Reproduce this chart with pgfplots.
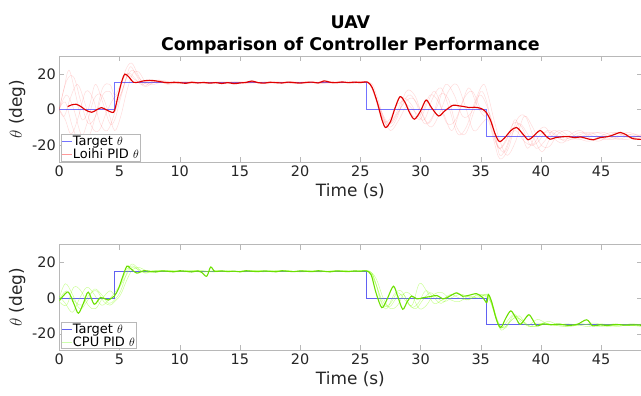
\documentclass[border=0pt]{standalone}
\usepackage{pgfplots}
\pgfplotsset{compat=1.18}
\usepackage{fontspec}
\setmainfont{DejaVu Sans}
\definecolor{axgray}{gray}{0.72}
\definecolor{txt}{gray}{0.15}
\definecolor{tgtA}{rgb}{0.45,0.45,1}
\definecolor{tgtB}{rgb}{0.38,0.38,0.95}
\definecolor{redmain}{rgb}{0.88,0,0}
\definecolor{grnmain}{rgb}{0.42,0.88,0}
\definecolor{grnfaint}{rgb}{0.5,1,0}
\definecolor{legR}{rgb}{1,0.6,0.6}
\definecolor{legG}{rgb}{0.8,1,0.68}
\pgfplotsset{
 myaxis/.style={
  scale only axis, width=582.2bp, xmin=0, xmax=48.35, ymax=30,
  xtick={0,5,...,45}, ytick={-20,0,20}, yticklabels={-20,0,20},
  tick align=inside, major tick length=5bp,
  axis line style={axgray}, every tick/.style={axgray},
  tick label style={font=\fontsize{14.5}{16}\selectfont, text=txt},
  /pgf/number format/assume math mode=true,
  label style={font=\fontsize{17}{19}\selectfont, text=txt},
  xlabel={Time (s)}, ylabel={$\theta$ (deg)},
  legend style={at={(rel axis cs:0,0)}, anchor=south west, xshift=2bp, yshift=1.5bp,
    draw=axgray, fill=white, font=\fontsize{13}{15}\selectfont, inner sep=0.6pt, row sep=0.8pt,
    nodes={inner sep=0.5pt}},
  legend cell align=left,
  legend image code/.code={\draw[#1] (0cm,0cm) -- (0.34cm,0cm);},
 },
 faintR/.style={red, draw opacity=0.14, line width=0.5pt, smooth, tension=0.6, forget plot},
 mainR/.style={redmain, line width=1.15pt, smooth, tension=0.5, forget plot},
 faintG/.style={grnfaint, draw opacity=0.4, line width=0.5pt, smooth, tension=0.6, forget plot},
 mainG/.style={grnmain, line width=1.1pt, smooth, tension=0.5, forget plot},
}
\begin{document}
\begin{tikzpicture}
\useasboundingbox (0,0) rectangle (641bp,396bp);
% ---------------- top ----------------
\begin{axis}[myaxis, at={(59.3bp,233.5bp)}, anchor=south west, height=106.5bp, ymin=-30,
  title={UAV\\Comparison of Controller Performance},
  title style={align=center, font=\bfseries\fontsize{17.5}{22}\selectfont, text=black, yshift=-7.5bp}]
\addplot[tgtA, line width=0.7pt] coordinates {(0,0)(4.55,0)(4.55,15)(25.5,15)(25.5,0)(35.45,0)(35.45,-15)(48.35,-15)};
\addlegendentry{Target $\theta$}
\addlegendimage{legR, line width=0.7pt}
\addlegendentry{Loihi PID $\theta$}
\addplot[faintR] coordinates {(0,0)(0.4,12)(0.8,22)(1.3,10)(1.9,-6)(2.5,2)(3.0,14)(3.6,4)(4.2,-8)(4.6,-6)(5.0,4)(5.5,16)(5.9,24)(6.4,19)(7.0,13)(7.6,15.5)(8.3,16.5)(9,14)(10.2,15.6)(11.4,14.8)(12.6,15.3)(13.8,14.6)(15,15.4)(16.2,14.9)(17.4,15.5)(18.6,14.7)(19.8,15.2)(21,14.8)(22.2,15.6)(23.4,14.9)(24.6,15.3)(25.7,15)(26.2,8)(26.8,-4)(27.3,-9)(28,-2)(28.6,6)(29.3,2)(29.9,-6)(30.6,4)(31.2,10)(31.9,-2)(32.6,-12)(33.3,0)(34,12)(34.7,2)(35.3,-4)(35.7,-2)(36.2,-14)(36.6,-26)(37.2,-20)(37.8,-6)(38.3,-12)(38.9,-22)(39.6,-14)(40.3,-10)(41,-16)(41.8,-19)(42.5,-14)(43.3,-12)(44,-16)(44.8,-18)(45.6,-15)(46.4,-13)(47.2,-16)(48.35,-15)};
\addplot[faintR] coordinates {(0,0)(0.5,-6)(1.0,-14)(1.6,-4)(2.2,10)(2.8,6)(3.4,-8)(4.0,-12)(4.6,-2)(5.1,8)(5.6,18)(6.1,22)(6.7,17)(7.3,14)(8,15.5)(9,15.2)(10,14.7)(11.2,15.4)(12.4,14.6)(13.6,15.3)(14.8,14.8)(16,15.6)(17.2,14.7)(18.4,15.2)(19.6,14.6)(20.8,15.4)(22,14.9)(23.2,15.3)(24.4,14.6)(25.7,15)(26.3,6)(27,-6)(27.6,-8)(28.3,0)(29,8)(29.6,4)(30.3,-8)(31,-4)(31.6,8)(32.3,6)(33,-10)(33.7,-14)(34.4,-2)(35,10)(35.5,4)(36,-12)(36.5,-22)(37.1,-18)(37.7,-8)(38.4,-10)(39.1,-20)(39.8,-18)(40.5,-12)(41.2,-14)(42,-18)(43,-15)(44,-13)(45,-16)(46,-17)(47,-14)(48.35,-16)};
\addplot[faintR] coordinates {(0,0)(0.6,16)(1.2,18)(1.8,4)(2.4,-8)(3.0,-4)(3.6,8)(4.2,10)(4.7,4)(5.2,10)(5.7,20)(6.2,18)(6.8,14)(7.5,15.8)(8.5,15)(9.7,14.5)(10.9,15.3)(12.1,14.8)(13.3,15.5)(14.5,14.7)(15.7,15.2)(16.9,14.6)(18.1,15.4)(19.3,14.9)(20.5,15.5)(21.7,14.7)(22.9,15.2)(24.1,14.8)(25.6,15)(26.1,10)(26.8,-2)(27.4,-8)(28,-3)(28.7,4)(29.4,6)(30.1,-2)(30.7,-8)(31.4,2)(32.1,14)(32.8,8)(33.5,-4)(34.2,-2)(34.9,8)(35.5,2)(36,-10)(36.4,-20)(37,-24)(37.6,-14)(38.2,-8)(38.9,-14)(39.6,-22)(40.3,-18)(41,-12)(41.7,-14)(42.5,-17)(43.5,-15)(44.5,-13)(45.5,-15)(46.5,-17)(47.5,-14)(48.35,-15)};
\addplot[faintR] coordinates {(0,0)(0.5,4)(1.1,-10)(1.7,-18)(2.3,-8)(2.9,6)(3.5,8)(4.1,-2)(4.6,-12)(5.1,-4)(5.6,10)(6.1,20)(6.6,21)(7.2,15)(7.9,14)(8.6,15.6)(9.8,14.9)(11,15.4)(12.2,14.6)(13.4,15.2)(14.6,14.8)(15.8,15.5)(17,14.6)(18.2,15.3)(19.4,14.7)(20.6,15.2)(21.8,14.6)(23,15.4)(24.2,14.9)(25.8,15)(26.3,9)(26.9,-4)(27.5,-12)(28.2,-6)(28.9,2)(29.6,-2)(30.3,-6)(31,6)(31.7,12)(32.4,0)(33.1,-14)(33.8,-10)(34.5,4)(35.2,14)(35.6,8)(36.1,-6)(36.6,-18)(37.2,-26)(37.9,-18)(38.6,-4)(39.3,-10)(40,-20)(40.7,-21)(41.4,-14)(42.2,-12)(43,-16)(44,-18)(45,-15)(46,-13)(47,-15)(48.35,-17)};
\addplot[faintR] coordinates {(0,0)(0.4,-4)(0.9,6)(1.5,14)(2.1,4)(2.7,-10)(3.3,-12)(3.9,-2)(4.5,6)(5.0,10)(5.5,22)(6.0,26)(6.5,20)(7.1,13)(7.8,15)(8.5,16.2)(9.5,15)(10.7,14.6)(11.9,15.3)(13.1,14.9)(14.3,15.5)(15.5,14.6)(16.7,15.2)(17.9,14.8)(19.1,15.5)(20.3,14.7)(21.5,15.3)(22.7,14.6)(23.9,15.2)(25.7,15)(26.2,8)(26.9,-6)(27.5,-10)(28.1,-4)(28.8,10)(29.5,8)(30.2,-4)(30.9,-10)(31.6,-2)(32.3,10)(33,14)(33.7,2)(34.4,-12)(35.1,-8)(35.6,-6)(36.1,-18)(36.6,-28)(37.3,-22)(38,-6)(38.7,-4)(39.4,-16)(40.1,-24)(40.8,-16)(41.5,-12)(42.3,-15)(43.2,-17)(44.2,-14)(45.2,-13)(46.2,-16)(47.2,-17)(48.35,-14)};
\addplot[faintR] coordinates {(0,0)(0.6,8)(1.2,0)(1.8,-14)(2.4,-16)(3.0,-4)(3.6,12)(4.2,14)(4.6,8)(5.1,14)(5.6,20)(6.2,17)(6.8,15)(7.5,16)(8.6,14.8)(9.8,15.4)(11,14.7)(12.2,15.2)(13.4,14.6)(14.6,15.4)(15.8,14.9)(17,15.3)(18.2,14.6)(19.4,15.5)(20.6,14.8)(21.8,15.2)(23,14.7)(24.2,15.3)(25.6,15)(26.2,7)(26.8,-6)(27.4,-6)(28,2)(28.7,4)(29.4,-4)(30.1,-2)(30.8,8)(31.5,4)(32.2,-8)(32.9,-6)(33.6,6)(34.3,10)(35,0)(35.6,-4)(36.1,-16)(36.6,-22)(37.2,-16)(37.9,-12)(38.6,-18)(39.3,-20)(40,-14)(40.8,-13)(41.6,-17)(42.4,-16)(43.3,-13)(44.3,-15)(45.3,-17)(46.3,-15)(47.3,-13)(48.35,-16)};
\addplot[mainR] coordinates {(0.7,1.5)(1.0,2.4)(1.4,2.8)(1.8,1.5)(2.2,-0.5)(2.7,-1.7)(3.1,-0.3)(3.5,0.9)(3.9,-0.3)(4.4,-1.8)(4.6,-0.5)(4.9,8)(5.2,16)(5.45,19.8)(5.8,18)(6.15,15.2)(6.6,15.3)(7,16)(7.5,16.3)(8,16)(8.5,15.4)(9,14.9)(9.5,15.2)(10,15)(10.5,14.6)(11,15.2)(11.5,14.8)(12,15.1)(12.5,14.7)(13,15)(13.5,14.5)(14,15)(14.5,14.4)(15,14.8)(15.5,15.1)(16,15.9)(16.5,15)(17,14.7)(17.5,15.2)(18,15)(18.5,14.8)(19,15.3)(19.5,15)(20,14.7)(20.5,15.1)(21,15.3)(21.5,14.8)(22,16)(22.5,15.2)(23,15)(23.5,15.4)(24,15)(24.5,15.3)(25,15)(25.6,15.3)(26,12)(26.4,4)(26.8,-6)(27.1,-10.3)(27.5,-7)(27.9,1)(28.3,7.1)(28.7,4)(29.1,-2)(29.5,-5.6)(30,-1)(30.46,5.2)(30.9,1)(31.5,-3.8)(32,-1)(32.67,2.2)(33.1,2)(33.6,1.5)(34,1)(34.5,1.1)(35,0.5)(35.4,-1.3)(35.8,-6)(36.2,-14)(36.55,-18.2)(37,-16)(37.5,-12)(37.98,-10.3)(38.5,-14)(38.95,-17.2)(39.4,-15)(39.93,-12)(40.4,-15)(40.76,-16.9)(41.2,-16)(41.8,-15.5)(42.3,-15.4)(42.8,-16)(43.3,-15.6)(43.8,-16.5)(44.35,-17.2)(44.9,-16)(45.5,-15.5)(46,-14.5)(46.6,-13.1)(47.1,-14.5)(47.6,-16.5)(48.35,-17)};
\end{axis}
% ---------------- bottom ----------------
\begin{axis}[myaxis, at={(59.3bp,45.7bp)}, anchor=south west, height=105.8bp, ymin=-29.3]
\addplot[tgtB, line width=0.7pt] coordinates {(0,0)(4.55,0)(4.55,15)(25.5,15)(25.5,0)(35.45,0)(35.45,-15)(48.35,-15)};
\addlegendentry{Target $\theta$}
\addlegendimage{legG, line width=0.7pt}
\addlegendentry{CPU PID $\theta$}
\addplot[faintG] coordinates {(0,0)(0.5,8)(1.1,2)(1.7,-6)(2.3,-2)(2.9,5)(3.5,2)(4.1,-3)(4.6,-1)(5.1,4)(5.6,14)(6.0,19)(6.5,17)(7.1,14)(7.8,15.5)(8.5,15)(9.7,14.6)(10.9,15.4)(12.1,14.7)(13.3,15.3)(14.5,14.8)(15.7,15.4)(16.9,14.7)(18.1,15.2)(19.3,14.8)(20.5,15.4)(21.7,14.7)(22.9,15.3)(24.1,14.8)(25.7,15)(26.2,10)(26.7,-2)(27.2,-6)(27.8,2)(28.4,4)(29,-3)(29.6,-6)(30.2,-1)(30.8,3)(31.4,0)(32,-2)(32.8,1)(33.5,2)(34.2,0)(35,1)(35.6,1)(36.1,-8)(36.6,-17)(37.2,-13)(37.8,-9)(38.4,-14)(39,-15)(39.7,-12)(40.4,-14)(41.2,-15.5)(42,-14.5)(43,-15)(44,-16)(45,-14.5)(46,-15.5)(47,-15)(48.35,-16)};
\addplot[faintG] coordinates {(0,-2)(0.6,-4)(1.2,6)(1.8,4)(2.4,-4)(3.0,-6)(3.6,0)(4.2,4)(4.6,2)(5.0,6)(5.5,12)(6.0,17)(6.6,16)(7.2,14)(8,15)(9.2,15.4)(10.4,14.7)(11.6,15.3)(12.8,14.6)(14,15.2)(15.2,14.8)(16.4,15.5)(17.6,14.7)(18.8,15.3)(20,14.6)(21.2,15.2)(22.4,14.8)(23.6,15.4)(24.8,14.8)(25.8,15)(26.3,8)(26.9,-4)(27.5,-3)(28.1,3)(28.7,-1)(29.3,-4)(29.9,8)(30.5,4)(31.1,-3)(31.8,-1)(32.5,2)(33.2,0)(34,-1)(34.8,2)(35.6,0)(36,-5)(36.5,-14)(37,-17)(37.6,-12)(38.2,-10)(38.8,-15)(39.5,-16)(40.2,-14)(41,-15)(42,-16)(43,-14.5)(44,-15)(45,-16)(46,-14.5)(47,-15.5)(48.35,-15)};
\addplot[faintG] coordinates {(0,1)(0.5,-3)(1.1,-8)(1.7,0)(2.3,6)(2.9,2)(3.5,-4)(4.1,-1)(4.6,3)(5.1,8)(5.6,16)(6.1,18)(6.7,15)(7.4,14.5)(8.2,15.5)(9.4,14.8)(10.6,15.3)(11.8,14.6)(13,15.4)(14.2,14.8)(15.4,15.2)(16.6,14.7)(17.8,15.4)(19,14.8)(20.2,15.3)(21.4,14.6)(22.6,15.2)(23.8,14.9)(25.6,15)(26.2,9)(26.8,-1)(27.4,-5)(28,0)(28.6,2)(29.2,-5)(29.8,-3)(30.4,4)(31,1)(31.7,-3)(32.4,1)(33.1,3)(33.8,-1)(34.5,1)(35.3,2)(35.7,1)(36.2,-10)(36.7,-18)(37.3,-14)(37.9,-11)(38.5,-13)(39.2,-16)(39.9,-15)(40.6,-13)(41.4,-15)(42.4,-16)(43.4,-14.5)(44.4,-15.5)(45.4,-15)(46.4,-16)(47.4,-14.5)(48.35,-15)};
\addplot[faintG] coordinates {(0,-1)(0.6,4)(1.3,-2)(1.9,-4)(2.5,2)(3.1,4)(3.7,-2)(4.2,-4)(4.6,-2)(5.1,2)(5.6,10)(6.1,16)(6.7,17)(7.3,15)(8,14.5)(9.2,15.3)(10.4,14.8)(11.6,15.5)(12.8,14.7)(14,15.2)(15.2,14.6)(16.4,15.3)(17.6,14.9)(18.8,15.4)(20,14.7)(21.2,15.3)(22.4,14.6)(23.6,15.2)(24.8,14.9)(25.7,15)(26.3,11)(26.9,0)(27.5,-6)(28.1,-4)(28.7,3)(29.3,1)(29.9,-6)(30.5,-4)(31.1,2)(31.8,3)(32.5,-1)(33.2,-2)(34,1)(34.8,0)(35.5,2)(36,-4)(36.5,-15)(37.1,-16)(37.7,-10)(38.3,-12)(39,-16)(39.7,-14)(40.5,-15)(41.5,-14.5)(42.5,-15.5)(43.5,-15)(44.5,-14)(45.5,-16)(46.5,-15)(47.5,-15.5)(48.35,-14.5)};
\addplot[mainG] coordinates {(0,-1.5)(0.3,1)(0.75,3.3)(1.2,-3)(1.58,-8.5)(2.0,-3)(2.4,3.3)(2.9,-3.5)(3.4,0.2)(3.8,-0.5)(4.07,-1.1)(4.57,1.1)(4.9,5)(5.18,10.3)(5.6,17.8)(5.87,16.8)(6.43,14)(7,15.3)(7.5,15)(8,14.6)(8.5,15.2)(9,15)(9.5,14.7)(10,15.3)(10.5,15)(11,14.6)(11.5,15.2)(11.8,14.5)(12.24,12.2)(12.57,17.4)(12.9,15)(13.5,15.2)(14,14.8)(14.5,15.1)(15,14.7)(15.5,15.3)(16,15)(16.5,14.8)(17,15.2)(17.5,15)(18,14.7)(18.5,15.3)(19,15)(19.5,14.8)(20,15.2)(20.5,15)(21,14.8)(21.5,15.3)(22,15)(22.5,14.7)(23,15.2)(23.5,15)(24,14.8)(24.5,15.2)(25,15)(25.5,15.2)(25.9,13)(26.3,3)(26.78,-5.4)(27.2,-1)(27.74,6.6)(28.1,1)(28.52,-6.3)(28.9,-2)(29.27,1.1)(29.7,-0.5)(30.23,0.2)(30.8,0.8)(31.35,1.4)(31.9,-0.5)(32.4,1)(33,2.9)(33.5,1)(34,1.5)(34.66,2.4)(35.2,0)(35.5,-2.6)(35.63,2)(35.9,-2)(36.3,-12)(36.66,-16.5)(37.1,-11)(37.5,-7.2)(37.9,-11)(38.3,-14.7)(38.96,-9.4)(39.3,-12)(39.65,-15.6)(40.2,-14.5)(40.8,-15)(41.5,-14.6)(42.2,-15.3)(43,-14.8)(43.8,-12.2)(44.3,-15.6)(44.9,-15)(45.5,-15.4)(46.2,-14.8)(47,-15.2)(47.7,-15)(48.35,-15.3)};
\end{axis}
\end{tikzpicture}
\end{document}
